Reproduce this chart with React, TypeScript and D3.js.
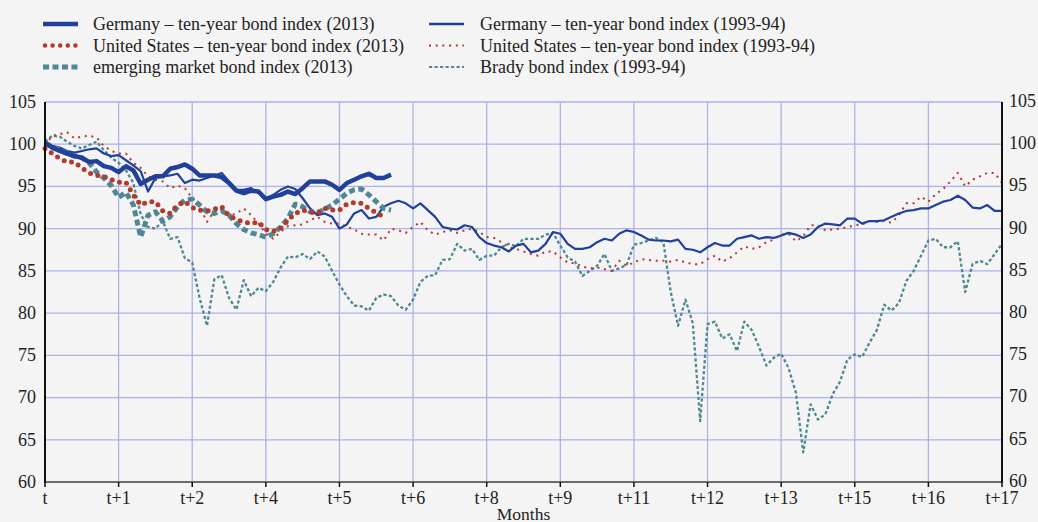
import React from "react";
import * as d3 from "d3";

// x categories (tick labels), positions 0..13
const xTickLabels = ["t", "t+1", "t+2", "t+4", "t+5", "t+6", "t+8", "t+9", "t+11", "t+12", "t+13", "t+15", "t+16", "t+17"];
const yTicks = [60, 65, 70, 75, 80, 85, 90, 95, 100, 105];
const sampleStep = 0.1; // spacing between observations, in tick units

const germany9394 = [
  100.2, 99.8, 99.6, 99.2, 99.0, 99.2, 99.4, 99.5, 98.9, 98.6,
  98.7, 98.1, 97.5, 96.8, 94.4, 96.0, 96.2, 96.3, 96.5, 95.4,
  95.8, 95.7, 96.0, 96.3, 96.6, 95.6, 94.6, 94.6, 94.8, 94.2,
  93.6, 94.0, 94.6, 95.0, 94.7, 93.6, 92.4, 91.6, 91.8, 91.4,
  90.0, 90.5, 91.8, 92.2, 91.2, 91.4, 92.6, 93.0, 93.3, 93.0,
  92.4, 93.0, 92.2, 91.4, 90.2, 90.0, 89.9, 90.4, 90.2, 89.0,
  88.3, 88.0, 87.8, 87.3, 88.0, 88.2, 87.2, 87.4, 88.2, 89.6,
  89.4, 88.2, 87.6, 87.6, 87.8, 88.4, 88.8, 88.6, 89.4, 89.8,
  89.6, 89.2, 88.7, 88.6, 88.6, 88.5, 88.7, 87.6, 87.5, 87.2,
  87.8, 88.3, 88.0, 88.0, 88.8, 89.0, 89.2, 88.8, 89.0, 88.9,
  89.2, 89.5, 89.3, 88.9, 89.3, 90.2, 90.6, 90.5, 90.4, 91.2,
  91.2, 90.6, 90.9, 90.9, 91.0, 91.4, 91.8, 92.1, 92.2, 92.4,
  92.4, 92.8, 93.2, 93.4, 93.9, 93.4, 92.5, 92.4, 92.8, 92.1,
  92.1,
];

const unitedStates9394 = [
  99.9, 101.0, 101.2, 101.4, 100.7, 100.9, 101.0, 100.8, 99.8, 99.2,
  98.9, 98.9, 97.8, 97.2, 96.2, 95.8, 95.6, 94.8, 95.1, 94.8,
  93.6, 92.7, 90.8, 92.1, 92.0, 91.5, 91.8, 92.4, 91.6, 90.6,
  89.4, 88.8, 89.6, 90.3, 90.4, 90.5, 91.0, 91.4, 90.8, 90.6,
  90.6, 90.2, 89.9, 89.4, 89.3, 89.3, 88.6, 90.0, 89.8, 89.5,
  90.2, 90.8, 89.8, 89.3, 89.6, 89.8, 89.5, 89.8, 90.0, 89.6,
  89.0, 88.9, 88.4, 87.8, 87.6, 87.3, 87.0, 86.8, 87.3, 87.3,
  86.6, 86.0, 85.9, 85.5, 85.3, 85.4, 85.2, 85.0, 86.2, 85.6,
  86.0, 86.4, 86.3, 86.2, 86.2, 86.1, 86.3, 86.0, 85.8, 85.8,
  86.4, 86.8, 86.1, 86.5, 87.2, 87.9, 87.6, 87.8, 88.4, 88.7,
  89.3, 89.4, 88.5, 89.1, 90.4, 90.4, 89.8, 89.9, 90.0, 90.2,
  90.4, 90.5, 90.9, 90.8, 90.9, 90.7, 91.6, 93.0, 93.0, 93.8,
  93.2, 94.1, 94.7, 95.6, 96.6, 95.0, 95.8, 96.2, 96.6, 96.6,
  95.4,
];

const brady9394 = [
  100.3, 101.0, 100.9, 100.3, 99.8, 99.5, 99.9, 100.3, 99.3, 98.4,
  97.8, 96.9, 95.4, 91.7, 90.2, 90.0, 90.9, 88.8, 89.0, 86.5,
  86.0, 81.8, 78.5, 84.0, 84.5, 81.8, 80.4, 83.9, 82.0, 83.0,
  82.6, 83.7, 85.4, 86.7, 86.6, 87.0, 86.4, 87.3, 86.7, 85.0,
  83.4, 82.0, 80.9, 80.8, 80.3, 81.8, 82.2, 82.0, 80.9, 80.4,
  81.6, 83.7, 84.4, 84.5, 86.3, 86.4, 88.2, 87.4, 87.6, 86.3,
  86.8, 86.8, 87.8, 88.2, 87.9, 88.8, 88.8, 88.8, 89.3, 89.5,
  88.0, 86.6, 86.1, 84.4, 85.0, 85.6, 87.0, 85.0, 85.3, 85.7,
  88.1, 88.3, 88.6, 88.9, 88.4, 82.5, 78.5, 81.6, 78.8, 67.2,
  78.7, 79.0, 77.0, 77.5, 75.5, 79.0, 78.0, 76.0, 73.8, 74.7,
  75.2, 73.5, 70.6, 63.5, 69.2, 67.4, 68.0, 70.4, 71.9, 74.5,
  75.1, 74.8, 76.5, 78.0, 81.0, 80.3, 81.2, 83.8, 85.0, 86.8,
  88.6, 88.8, 87.8, 87.8, 88.5, 82.5, 85.8, 86.2, 85.8, 87.0,
  88.2,
];

const germany2013 = [
  100.2, 99.6, 99.2, 98.9, 98.6, 98.4, 97.9, 98.0, 97.4, 97.2,
  96.7, 97.4, 96.9, 95.3, 95.8, 96.2, 96.2, 97.1, 97.3, 97.6,
  97.1, 96.3, 96.3, 96.3, 96.1, 95.4, 94.5, 94.2, 94.5, 94.4,
  93.5, 93.8, 94.0, 94.4, 94.1, 94.8, 95.6, 95.6, 95.6, 95.2,
  94.6, 95.4, 95.8, 96.2, 96.5, 96.0, 96.0, 96.4,
];

const unitedStates2013 = [
  99.5, 98.9, 98.3, 97.9, 97.9, 97.2, 96.6, 96.3, 96.2, 95.8,
  95.5, 95.5, 94.0, 92.8, 93.2, 93.2, 92.1, 91.8, 92.8, 93.2,
  92.5, 92.2, 92.1, 92.3, 92.6, 91.5, 91.1, 90.8, 90.6, 90.8,
  89.9, 89.7, 90.0, 91.0, 91.8, 92.2, 92.0, 91.8, 92.4, 92.2,
  92.2, 92.9, 93.1, 93.0, 92.4, 91.9, 91.4,
];

const emerging2013 = [
  100.1, 99.7, 99.3, 98.9, 98.6, 98.4, 97.8, 96.7, 96.0, 95.1,
  93.7, 94.3, 92.8, 89.0, 91.6, 92.0, 90.9, 91.4, 92.6, 93.4,
  93.5, 92.8, 92.0, 91.8, 92.1, 91.6, 90.6, 89.9, 89.5, 89.3,
  89.0, 89.4, 90.2, 91.2, 92.9, 92.6, 92.0, 91.9, 92.3, 92.8,
  93.5, 94.2, 94.6, 94.7, 94.0, 93.2, 92.4, 92.2,
];

const legendLabels = [
  "Germany – ten-year bond index (2013)",
  "United States – ten-year bond index (2013)",
  "emerging market bond index (2013)",
  "Germany – ten-year bond index (1993-94)",
  "United States – ten-year bond index (1993-94)",
  "Brady bond index (1993-94)",
];

const BLUE = "#21409a";
const RED = "#b5382b";
const TEAL = "#4f8794";
const GRID = "#aab2ec";
const FONT = "'Liberation Serif', 'Times New Roman', serif";

type Style = { color: string; width: number; dash?: string; cap?: "round" | "butt" };

const seriesList: { name: string; values: number[]; style: Style }[] = [
  { name: legendLabels[5], values: brady9394, style: { color: TEAL, width: 2.3, dash: "3.2 2.3" } },
  { name: legendLabels[4], values: unitedStates9394, style: { color: RED, width: 2, dash: "2 4.7" } },
  { name: legendLabels[3], values: germany9394, style: { color: BLUE, width: 2.2 } },
  { name: legendLabels[2], values: emerging2013, style: { color: TEAL, width: 5, dash: "6 3.5" } },
  { name: legendLabels[1], values: unitedStates2013, style: { color: RED, width: 5, dash: "0 7.6", cap: "round" } },
  { name: legendLabels[0], values: germany2013, style: { color: BLUE, width: 4.5 } },
];

const legendStyles: Style[] = [
  { color: BLUE, width: 4.5 },
  { color: RED, width: 4.5, dash: "0 7.6", cap: "round" },
  { color: TEAL, width: 5, dash: "6 3.5" },
  { color: BLUE, width: 2.5 },
  { color: RED, width: 2, dash: "2 4.7" },
  { color: TEAL, width: 2.2, dash: "3.2 2.3" },
];

export default function App() {
  const W = 1038;
  const H = 522;
  const left = 45;
  const right = 1002;
  const top = 102;
  const bottom = 482;

  const x = d3.scaleLinear().domain([0, xTickLabels.length - 1]).range([left, right]);
  const y = d3.scaleLinear().domain([60, 105]).range([bottom, top]);

  const line = d3
    .line<number>()
    .x((_, i) => x(i * sampleStep))
    .y((v) => y(v))
    .curve(d3.curveLinear);

  const xTicks = xTickLabels.map((_, i) => i);

  return (
    <svg
      width={W}
      height={H}
      style={{ position: "absolute", left: 0, top: 0, fontFamily: FONT }}
    >
      <rect x={0} y={0} width={W} height={H} fill="#f4f4f4" />

      {/* grid */}
      {yTicks.map((t) => (
        <line key={"gy" + t} x1={left} x2={right} y1={y(t)} y2={y(t)} stroke={GRID} strokeWidth={1.3} />
      ))}
      {xTicks.map((t) => (
        <line key={"gx" + t} x1={x(t)} x2={x(t)} y1={top} y2={bottom} stroke={GRID} strokeWidth={1.3} />
      ))}

      {/* series */}
      {seriesList.map((s) => (
        <path
          key={s.name}
          d={line(s.values) || ""}
          fill="none"
          stroke={s.style.color}
          strokeWidth={s.style.width}
          strokeDasharray={s.style.dash}
          strokeLinecap={s.style.cap || "butt"}
          strokeLinejoin="round"
        />
      ))}

      {/* axes */}
      <line x1={left} x2={right} y1={bottom} y2={bottom} stroke="#6a6a6a" strokeWidth={2} />
      <line x1={left} x2={left} y1={top} y2={bottom + 1} stroke="#111" strokeWidth={2} />
      <line x1={right} x2={right} y1={top} y2={bottom + 1} stroke="#111" strokeWidth={2} />
      {xTicks.map((t) => (
        <line key={"tk" + t} x1={x(t)} x2={x(t)} y1={bottom} y2={bottom + 5} stroke="#111" strokeWidth={1.5} />
      ))}

      {/* y tick labels */}
      {yTicks.map((t) => (
        <text key={"yl" + t} x={left - 9} y={y(t)} dy="0.33em" textAnchor="end" fontSize={18} fill="#222">
          {t}
        </text>
      ))}
      {yTicks.map((t) => (
        <text key={"yr" + t} x={right + 7} y={y(t) - 1} dy="0.33em" textAnchor="start" fontSize={18} fill="#222">
          {t}
        </text>
      ))}

      {/* x tick labels */}
      {xTickLabels.map((lab, i) => (
        <text key={"xl" + i} x={x(i)} y={504} textAnchor="middle" fontSize={18} fill="#222">
          {lab}
        </text>
      ))}
      <text x={(left + right) / 2} y={519.5} textAnchor="middle" fontSize={17.5} fill="#222">
        Months
      </text>

      {/* legend */}
      {legendLabels.map((lab, i) => {
        const col = Math.floor(i / 3);
        const row = i % 3;
        const sx = col === 0 ? 43 : 429;
        const tx = col === 0 ? 93 : 480;
        const cy = 24 + row * 21.5;
        const st = legendStyles[i];
        return (
          <g key={"lg" + i}>
            <line
              x1={sx + (st.cap === "round" ? 2 : 0)}
              x2={sx + 35}
              y1={cy}
              y2={cy}
              stroke={st.color}
              strokeWidth={st.width}
              strokeDasharray={st.dash}
              strokeLinecap={st.cap || "butt"}
            />
            <text x={tx} y={cy + 6} fontSize={18} fill="#222">
              {lab}
            </text>
          </g>
        );
      })}
    </svg>
  );
}
